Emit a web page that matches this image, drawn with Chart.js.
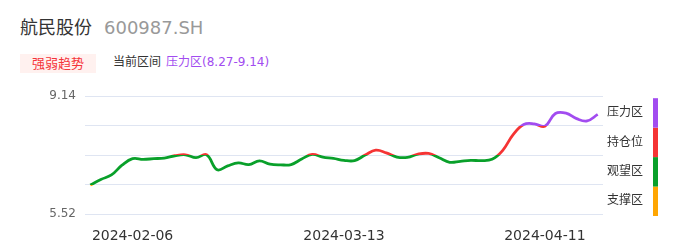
<!DOCTYPE html>
<html>
<head>
<meta charset="utf-8">
<script src="https://cdn.jsdelivr.net/npm/chart.js@4.4.1/dist/chart.umd.min.js"></script>
<style>
  html, body { margin: 0; padding: 0; background: #fff; }
  body { font-family: "DejaVu Sans", "Noto Sans CJK SC", sans-serif; }
  #wrap { position: relative; width: 686px; height: 247px; overflow: hidden; }
  .title { position: absolute; left: 20px; top: 18px; font-size: 18px; line-height: 20px; color: #333; white-space: nowrap; }
  .title span { color: #999; margin-left: 12px; }
  .badge { position: absolute; left: 20px; top: 54px; width: 76px; height: 19px; line-height: 19px; text-align: center;
           background: #fff1ef; color: #f5343a; font-size: 13px; }
  .range { position: absolute; left: 113px; top: 54px; line-height: 17px; font-size: 12px; color: #333; white-space: nowrap; }
  .range span { color: #a24cf0; margin-left: 5px; }
  #box { position: absolute; left: 0; top: 80px; width: 686px; height: 167px; }
</style>
</head>
<body>
<div id="wrap">
  <div class="title">航民股份<span>600987.SH</span></div>
  <div class="badge">强弱趋势</div>
  <div class="range">当前区间<span>压力区(8.27-9.14)</span></div>
  <div id="box"><canvas id="chart"></canvas></div>
</div>
<script>
// trading days shown on the x axis
const dates = [
  '2024-01-31', '2024-02-01', '2024-02-02', '2024-02-05', '2024-02-06', '2024-02-07', '2024-02-08',
  '2024-02-19', '2024-02-20', '2024-02-21', '2024-02-22', '2024-02-23',
  '2024-02-26', '2024-02-27', '2024-02-28', '2024-02-29', '2024-03-01',
  '2024-03-04', '2024-03-05', '2024-03-06', '2024-03-07', '2024-03-08',
  '2024-03-11', '2024-03-12', '2024-03-13', '2024-03-14', '2024-03-15',
  '2024-03-18', '2024-03-19', '2024-03-20', '2024-03-21', '2024-03-22',
  '2024-03-25', '2024-03-26', '2024-03-27', '2024-03-28', '2024-03-29',
  '2024-04-01', '2024-04-02', '2024-04-03', '2024-04-08', '2024-04-09', '2024-04-10',
  '2024-04-11', '2024-04-12', '2024-04-15', '2024-04-16', '2024-04-17', '2024-04-18'
];
const shownDates = ['2024-02-06', '2024-03-13', '2024-04-11'];

// closing prices
const prices = [
  6.41, 6.58, 6.72, 7.02, 7.22, 7.20, 7.22, 7.24, 7.31, 7.34,
  7.25, 7.34, 6.88, 7.00, 7.09, 7.04, 7.15, 7.05, 7.03, 7.04,
  7.21, 7.35, 7.27, 7.23, 7.17, 7.16, 7.33, 7.48, 7.40, 7.27,
  7.26, 7.36, 7.38, 7.25, 7.11, 7.14, 7.17, 7.16, 7.20, 7.47,
  7.96, 8.27, 8.29, 8.22, 8.61, 8.62, 8.45, 8.38, 8.58
];

// zone boundaries (bottom to top) and their names / colours
const zoneBounds = [5.52, 6.425, 7.33, 8.235, 9.14];
const zoneNames = ['支撑区', '观望区', '持仓位', '压力区'];
const zoneColors = ['#ffa602', '#09a02a', '#f53434', '#a24cf0'];
const yLabels = ['5.52', '9.14'];

function zoneGradient(context) {
  const chart = context.chart;
  if (!chart.chartArea) return zoneColors[1];
  const y = chart.scales.y;
  const lo = zoneBounds[0], hi = zoneBounds[zoneBounds.length - 1];
  const g = chart.ctx.createLinearGradient(0, y.getPixelForValue(lo), 0, y.getPixelForValue(hi));
  for (let k = 0; k < zoneColors.length; k++) {
    const f0 = (zoneBounds[k] - lo) / (hi - lo);
    const f1 = (zoneBounds[k + 1] - lo) / (hi - lo);
    g.addColorStop(f0, zoneColors[k]);
    g.addColorStop(f1, zoneColors[k]);
  }
  return g;
}

// colour bar + names on the right
const zoneLegend = {
  id: 'zoneLegend',
  afterDraw(chart) {
    const ctx = chart.ctx;
    const y = chart.scales.y;
    ctx.save();
    ctx.font = '12px "DejaVu Sans", "Noto Sans CJK SC", sans-serif';
    ctx.textBaseline = 'middle';
    for (let k = 0; k < zoneNames.length; k++) {
      const top = y.getPixelForValue(zoneBounds[k + 1]) + 2;
      const bot = y.getPixelForValue(zoneBounds[k]) + 2;
      ctx.fillStyle = zoneColors[k];
      ctx.fillRect(653, top, 5, bot - top);
      ctx.fillStyle = '#333';
      ctx.fillText(zoneNames[k], 607, (top + bot) / 2);
    }
    ctx.restore();
  }
};

new Chart(document.getElementById('chart'), {
  type: 'line',
  data: {
    labels: dates,
    datasets: [{
      data: prices,
      borderColor: zoneGradient,
      borderWidth: 2.8,
      pointRadius: 0,
      tension: 0.4,
      fill: false
    }]
  },
  options: {
    responsive: true,
    maintainAspectRatio: false,
    animation: false,
    layout: { padding: { top: 14, right: 83, left: 0, bottom: 0 } },
    plugins: { legend: { display: false }, tooltip: { enabled: false } },
    scales: {
      x: {
        offset: true,
        grid: { display: false },
        border: { display: false },
        afterFit(scale) { scale.height = 33; },
        ticks: {
          autoSkip: false,
          maxRotation: 0,
          padding: 6,
          color: '#333',
          font: { family: '"DejaVu Sans", sans-serif', size: 14 },
          callback(val) {
            const d = this.getLabelForValue(val);
            return shownDates.includes(d) ? d : '';
          }
        }
      },
      y: {
        min: zoneBounds[0],
        max: zoneBounds[4],
        afterFit(scale) { scale.width = 85; },
        afterBuildTicks(scale) { scale.ticks = zoneBounds.map(v => ({ value: v })); },
        grid: { color: '#dfe5f2', lineWidth: 1, drawTicks: false },
        border: { display: false },
        ticks: {
          padding: 9,
          color: '#666',
          font: { family: '"DejaVu Sans", sans-serif', size: 12 },
          callback(v) {
            const s = v.toFixed(2);
            return yLabels.includes(s) ? s : '';
          }
        }
      }
    }
  },
  plugins: [zoneLegend]
});
</script>
</body>
</html>
